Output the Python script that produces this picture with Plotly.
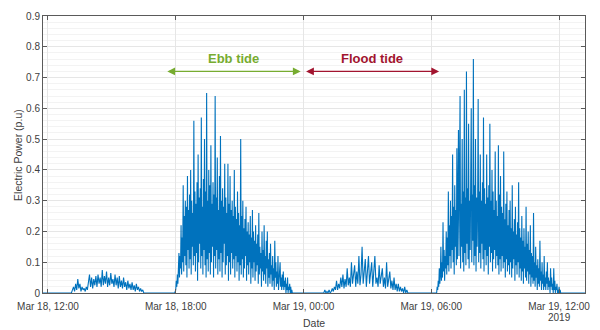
import pandas as pd
import plotly.graph_objects as go

# Axis span and tick labels
x_start, x_end = "2019-03-18 11:46", "2019-03-19 13:13"
tick_times = ["2019-03-18 12:00", "2019-03-18 18:00", "2019-03-19 00:00",
              "2019-03-19 06:00", "2019-03-19 12:00"]
tick_labels = ["Mar 18, 12:00", "Mar 18, 18:00", "Mar 19, 00:00",
               "Mar 19, 06:00", "Mar 19, 12:00"]
y_ticks = [0, 0.1, 0.2, 0.3, 0.4, 0.5, 0.6, 0.7, 0.8, 0.9]

# Idle record spacing (minutes)
IDLE_STEP = 3

# Generation bursts (p.u.): start time, logging step (minutes), values
burst1_start, burst1_step = "2019-03-18 13:09", 3
burst1 = [0.01, 0.02, 0.005, 0.03, 0.01, 0.045, 0.015, 0.03, 0.005, 0.02, 0.01, 0.015,
          0.005, 0.02, 0.01, 0.04,
          0.06, 0.02, 0.05, 0.015, 0.045, 0.025, 0.055, 0.02, 0.06, 0.03, 0.05, 0.02,
          0.075, 0.025, 0.055, 0.03, 0.07, 0.02, 0.05, 0.025, 0.065, 0.03, 0.045, 0.02,
          0.06, 0.025, 0.05, 0.015, 0.055, 0.02, 0.04, 0.015, 0.05, 0.02, 0.035, 0.01,
          0.04, 0.015, 0.03, 0.01, 0.035, 0.01, 0.025, 0.005, 0.03, 0.01, 0.02, 0.005,
          0.015, 0.005, 0.01]

burst2_start, burst2_step = "2019-03-18 18:00", 1.5
burst2 = [
    0.01, 0.04, 0.02, 0.06, 0.03, 0.09, 0.13, 0.05, 0.12, 0.08, 0.22, 0.06, 0.18, 0.10, 0.35, 0.07, 0.25, 0.12, 0.30, 0.09,
    0.28, 0.05, 0.38, 0.14, 0.27, 0.08, 0.32, 0.11, 0.40, 0.06, 0.30, 0.15, 0.26, 0.09, 0.56, 0.12, 0.33, 0.07, 0.29, 0.13,
    0.36, 0.04, 0.45, 0.10, 0.31, 0.16, 0.34, 0.08, 0.57, 0.12, 0.28, 0.06, 0.37, 0.14, 0.50, 0.09, 0.33, 0.05, 0.65, 0.11,
    0.30, 0.07, 0.40, 0.13, 0.35, 0.06, 0.48, 0.10, 0.29, 0.15, 0.36, 0.05, 0.32, 0.12, 0.64, 0.08, 0.31, 0.14, 0.44, 0.06,
    0.27, 0.11, 0.38, 0.07, 0.51, 0.13, 0.30, 0.05, 0.34, 0.10, 0.28, 0.16, 0.42, 0.06, 0.31, 0.09, 0.26, 0.12, 0.42, 0.04,
    0.29, 0.10, 0.38, 0.06, 0.27, 0.13, 0.30, 0.08, 0.25, 0.11, 0.40, 0.05, 0.28, 0.12, 0.24, 0.07, 0.33, 0.10, 0.26, 0.04,
    0.22, 0.09, 0.50, 0.06, 0.25, 0.11, 0.30, 0.05, 0.21, 0.08, 0.24, 0.12, 0.28, 0.04, 0.20, 0.09, 0.23, 0.06, 0.19, 0.10,
    0.25, 0.03, 0.18, 0.08, 0.27, 0.05, 0.20, 0.10, 0.17, 0.04, 0.22, 0.07, 0.16, 0.09, 0.19, 0.03, 0.26, 0.06, 0.15, 0.08,
    0.13, 0.02, 0.20, 0.07, 0.14, 0.04, 0.22, 0.06, 0.12, 0.03, 0.17, 0.08, 0.20, 0.02, 0.11, 0.05, 0.13, 0.03, 0.16, 0.06,
    0.09, 0.02, 0.12, 0.04, 0.08, 0.01, 0.17, 0.05, 0.10, 0.02, 0.07, 0.03, 0.12, 0.01, 0.06, 0.04, 0.10, 0.02, 0.05, 0.01,
    0.06, 0.02, 0.07, 0.01, 0.04, 0.02, 0.05, 0.00, 0.03, 0.01, 0.05, 0.00, 0.02, 0.01, 0.03, 0.00, 0.02, 0.00, 0.01, 0.0,
]

burst3_start, burst3_step = "2019-03-19 01:00", 3
burst3 = [0.01, 0.0, 0.005, 0.0, 0.01, 0.0, 0.005, 0.015, 0.005, 0.02,
          0.01, 0.04, 0.01, 0.03, 0.015, 0.05, 0.02, 0.06, 0.015, 0.045,
          0.02, 0.08, 0.025, 0.05, 0.02, 0.10, 0.03, 0.06, 0.09, 0.02,
          0.07, 0.03, 0.12, 0.025, 0.06, 0.15, 0.03, 0.07, 0.11, 0.02,
          0.06, 0.12, 0.03, 0.07, 0.10, 0.02, 0.06, 0.12, 0.03, 0.05,
          0.02, 0.09, 0.03, 0.05, 0.08, 0.02, 0.05, 0.015, 0.10, 0.02,
          0.04, 0.07, 0.015, 0.04, 0.01, 0.05, 0.01, 0.03, 0.005, 0.03,
          0.005, 0.02, 0.005, 0.015, 0.0, 0.02, 0.0, 0.01, 0.0]

burst4_start, burst4_step = "2019-03-19 06:15", 1.5
burst4 = [
    0.00, 0.02, 0.01, 0.04, 0.02, 0.08, 0.03, 0.06, 0.15, 0.04, 0.10, 0.05, 0.23, 0.07, 0.14, 0.04, 0.12, 0.08, 0.20, 0.06,
    0.18, 0.09, 0.33, 0.07, 0.22, 0.12, 0.30, 0.08, 0.25, 0.14, 0.45, 0.10, 0.28, 0.06, 0.35, 0.15, 0.27, 0.09, 0.47, 0.11,
    0.30, 0.53, 0.12, 0.32, 0.64, 0.08, 0.29, 0.15, 0.50, 0.10, 0.33, 0.07, 0.66, 0.13, 0.31, 0.09, 0.72, 0.16, 0.34, 0.11,
    0.55, 0.08, 0.30, 0.14, 0.36, 0.60, 0.10, 0.32, 0.17, 0.76, 0.09, 0.35, 0.12, 0.50, 0.07, 0.31, 0.15, 0.28, 0.63, 0.10,
    0.33, 0.13, 0.45, 0.08, 0.30, 0.16, 0.36, 0.11, 0.57, 0.07, 0.34, 0.14, 0.29, 0.09, 0.45, 0.12, 0.31, 0.06, 0.35, 0.15,
    0.55, 0.10, 0.30, 0.13, 0.40, 0.07, 0.33, 0.11, 0.27, 0.14, 0.46, 0.08, 0.30, 0.12, 0.25, 0.09, 0.48, 0.06, 0.32, 0.11,
    0.38, 0.07, 0.28, 0.12, 0.26, 0.08, 0.46, 0.10, 0.24, 0.05, 0.29, 0.11, 0.33, 0.07, 0.22, 0.09, 0.27, 0.06, 0.30, 0.10,
    0.21, 0.05, 0.35, 0.08, 0.20, 0.11, 0.24, 0.04, 0.28, 0.09, 0.19, 0.06, 0.23, 0.10, 0.36, 0.05, 0.21, 0.08, 0.18, 0.04,
    0.25, 0.07, 0.17, 0.03, 0.21, 0.08, 0.15, 0.05, 0.28, 0.04, 0.16, 0.07, 0.20, 0.03, 0.14, 0.06, 0.22, 0.02, 0.13, 0.05,
    0.12, 0.03, 0.26, 0.04, 0.10, 0.02, 0.15, 0.05, 0.09, 0.01, 0.11, 0.03, 0.08, 0.02, 0.17, 0.04, 0.07, 0.01, 0.10, 0.03,
    0.06, 0.01, 0.12, 0.02, 0.05, 0.01, 0.07, 0.03, 0.10, 0.01, 0.05, 0.02, 0.04, 0.00, 0.08, 0.02, 0.05, 0.01, 0.03, 0.00,
    0.08, 0.01, 0.04, 0.00, 0.02, 0.01, 0.03, 0.00, 0.01, 0.00, 0.02, 0.00, 0.01, 0.00, 0.00, 0.00,
]

# Tide period markers
ebb_span = ("2019-03-18 17:32", "2019-03-18 23:52")
flood_span = ("2019-03-19 00:03", "2019-03-19 06:22")

# Assemble the full record: idle (0 p.u.) outside the bursts
idle_idx = pd.date_range("2019-03-18 11:45", "2019-03-19 13:15", freq=f"{IDLE_STEP}min")
parts = []
for start, step, vals in [(burst1_start, burst1_step, burst1),
                          (burst2_start, burst2_step, burst2),
                          (burst3_start, burst3_step, burst3),
                          (burst4_start, burst4_step, burst4)]:
    t = pd.date_range(start, periods=len(vals), freq=pd.Timedelta(minutes=step))
    parts.append(pd.Series(vals, index=t))
active = pd.concat(parts)
idle = pd.Series(0.0, index=idle_idx)
# drop idle samples that fall inside a burst window
keep = pd.Series(True, index=idle_idx)
for s in parts:
    keep &= ~((idle_idx >= s.index[0]) & (idle_idx <= s.index[-1]))
power = pd.concat([idle[keep.values], active]).sort_index()

BLUE = "#0072BD"
GREEN = "#77AC30"
RED = "#A2142F"
TXT = "#404040"
FONT = "Liberation Sans, Arial, sans-serif"

fig = go.Figure()
fig.add_trace(go.Scatter(x=power.index, y=power.values, mode="lines",
                         line=dict(color=BLUE, width=1.1), hoverinfo="skip"))

axis_common = dict(showline=True, linecolor="#5a5a5a", linewidth=1, mirror="allticks",
                   ticks="inside", tickcolor="#5a5a5a", ticklen=4, zeroline=False,
                   tickfont=dict(family=FONT, size=10, color=TXT),
                   showgrid=True, gridcolor="#e6e6e6", gridwidth=1)

fig.update_xaxes(range=[x_start, x_end], tickvals=tick_times, ticktext=tick_labels,
                 ticklabelstandoff=4, **axis_common)
fig.update_yaxes(range=[0, 0.9], tickvals=y_ticks,
                 ticktext=[f"{v:g}" for v in y_ticks],
                 minor=dict(dtick=0.02, showgrid=True, gridcolor="#f3f3f3", ticks=""),
                 **axis_common)

annotations = [
    dict(x=ebb_span[1], y=0.72, ax=ebb_span[0], ay=0.72, axref="x", ayref="y",
         xref="x", yref="y", text="", showarrow=True, arrowside="end+start",
         arrowhead=2, arrowsize=1.2, arrowwidth=1.3, arrowcolor=GREEN),
    dict(x=flood_span[1], y=0.72, ax=flood_span[0], ay=0.72, axref="x", ayref="y",
         xref="x", yref="y", text="", showarrow=True, arrowside="end+start",
         arrowhead=2, arrowsize=1.2, arrowwidth=1.3, arrowcolor=RED),
    dict(x="2019-03-18 20:42", y=0.763, xref="x", yref="y", text="<b>Ebb tide</b>",
         showarrow=False, font=dict(family=FONT, size=13, color=GREEN)),
    dict(x="2019-03-19 03:12", y=0.763, xref="x", yref="y", text="<b>Flood tide</b>",
         showarrow=False, font=dict(family=FONT, size=13, color=RED)),
    dict(x="2019-03-19 12:00", y=-0.09, xref="x", yref="paper", yanchor="middle",
         text="2019", showarrow=False, font=dict(family=FONT, size=10, color=TXT)),
    dict(x=0.5, y=-0.107, xref="paper", yref="paper", yanchor="middle", text="Date",
         showarrow=False, font=dict(family=FONT, size=10.5, color=TXT)),
    dict(x=-0.062, y=0.5, xref="paper", yref="paper", text="Electric Power (p.u)",
         textangle=-90, showarrow=False, font=dict(family=FONT, size=10.5, color=TXT)),
]

fig.update_layout(width=600, height=330, margin=dict(l=43, r=10, t=13, b=37),
                  paper_bgcolor="white", plot_bgcolor="white", showlegend=False,
                  annotations=annotations)

fig.write_html("out.html")
